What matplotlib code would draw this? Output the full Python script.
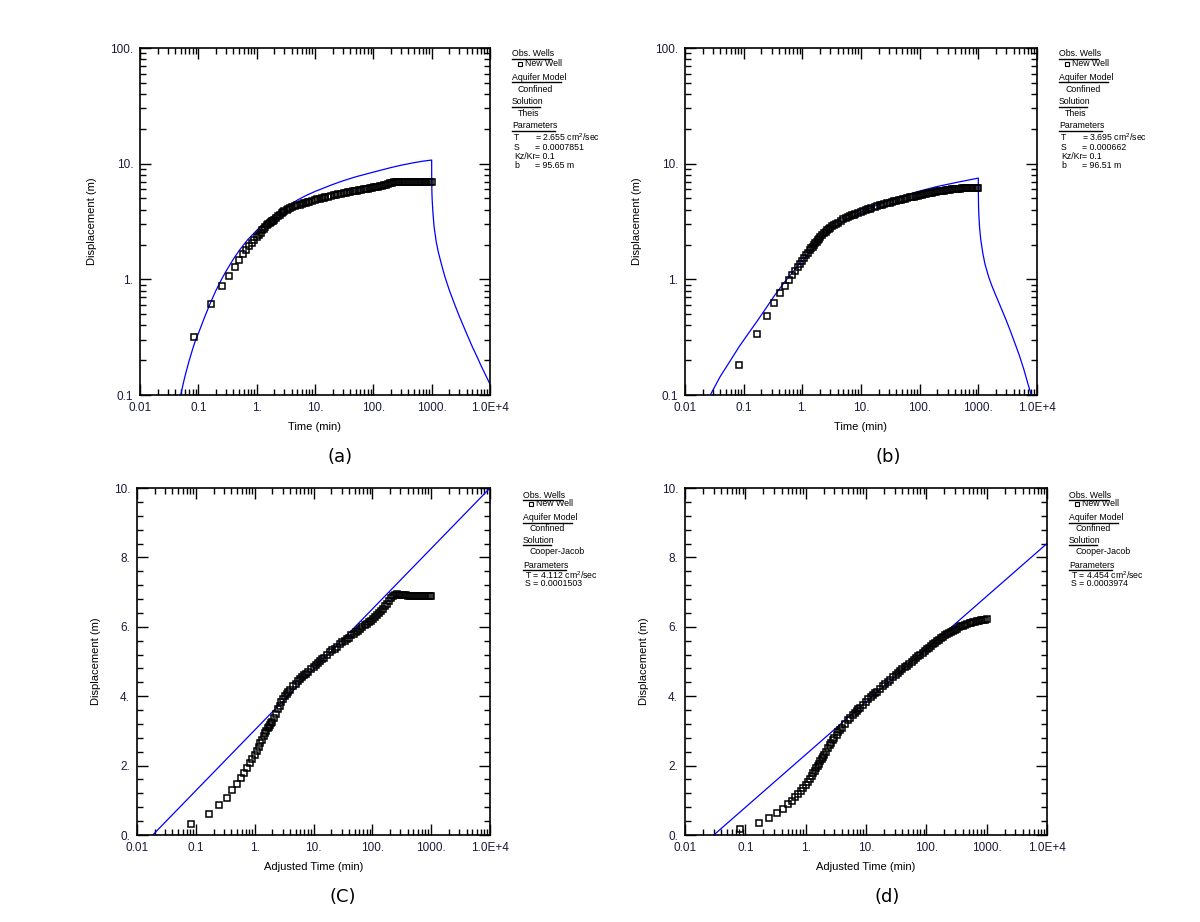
import matplotlib
matplotlib.use('Agg')
import matplotlib.pyplot as plt
from matplotlib.ticker import LogLocator, NullFormatter, MultipleLocator
from matplotlib.lines import Line2D

plt.rcParams['font.family'] = ['Liberation Sans', 'DejaVu Sans']
plt.rcParams['mathtext.default'] = 'regular'

# observed drawdown, test A (panels a, c)
tA = [0.083, 0.167, 0.25, 0.333, 0.417, 0.5, 0.583, 0.667, 0.75, 0.833, 0.917,
      1.0, 1.083, 1.167, 1.25, 1.333, 1.417, 1.5, 1.583, 1.667, 1.75, 1.833, 1.917,
      2.0, 2.17, 2.33, 2.5, 2.67, 2.83, 3.0, 3.25, 3.5, 3.75, 4.0, 4.5, 5.0, 5.5,
      6.0, 6.5, 7.0, 7.5, 8.0, 9.0, 10, 11, 12, 13, 14, 15, 17, 19, 21, 23, 25,
      28, 31, 34, 37, 40, 44, 48, 52, 57, 62, 68, 74, 80, 87, 94, 102, 110, 120,
      130, 140, 152, 165, 178, 192, 207, 223, 240, 260, 280, 300, 325, 350, 380,
      410, 445, 480, 520, 560, 605, 650, 700, 755, 815, 880, 940, 1000]
sA = [0.32, 0.61, 0.87, 1.07, 1.29, 1.48, 1.64, 1.79, 1.94, 2.07, 2.19,
      2.31, 2.42, 2.54, 2.65, 2.74, 2.86, 2.93, 3.00, 3.07, 3.12, 3.17, 3.22,
      3.26, 3.38, 3.50, 3.63, 3.73, 3.83, 3.91, 4.00, 4.07, 4.13, 4.19, 4.28, 4.36, 4.43,
      4.49, 4.55, 4.60, 4.65, 4.69, 4.77, 4.85, 4.91, 4.97, 5.02, 5.07, 5.11, 5.19, 5.26, 5.32, 5.37, 5.42,
      5.49, 5.55, 5.60, 5.65, 5.69, 5.75, 5.80, 5.84, 5.89, 5.94, 5.99, 6.04, 6.08, 6.13, 6.18, 6.23, 6.28, 6.34,
      6.40, 6.46, 6.52, 6.59, 6.67, 6.75, 6.83, 6.89, 6.93, 6.94, 6.93, 6.92, 6.92, 6.91, 6.91,
      6.90, 6.90, 6.90, 6.89, 6.89, 6.89, 6.89, 6.88, 6.88, 6.88, 6.88, 6.88, 6.88]

# observed drawdown, test B (panels b, d)
tB = tA
sB = [0.18, 0.34, 0.48, 0.62, 0.76, 0.88, 0.99, 1.09, 1.18, 1.27, 1.36,
      1.45, 1.54, 1.62, 1.70, 1.78, 1.85, 1.92, 1.99, 2.06, 2.12, 2.18, 2.24,
      2.30, 2.40, 2.50, 2.58, 2.66, 2.73, 2.80, 2.88, 2.96, 3.03, 3.09, 3.20, 3.30, 3.38,
      3.45, 3.51, 3.57, 3.62, 3.67, 3.76, 3.84, 3.91, 3.97, 4.03, 4.08, 4.13, 4.22, 4.30, 4.36, 4.42, 4.47,
      4.54, 4.61, 4.67, 4.72, 4.77, 4.83, 4.88, 4.93, 4.99, 5.04, 5.10, 5.15, 5.20, 5.25, 5.30, 5.35, 5.40, 5.45,
      5.50, 5.54, 5.58, 5.63, 5.67, 5.71, 5.75, 5.79, 5.82, 5.86, 5.89, 5.92, 5.95, 5.98, 6.01,
      6.03, 6.06, 6.08, 6.10, 6.12, 6.14, 6.15, 6.17, 6.18, 6.19, 6.20, 6.21, 6.22]

# Theis fit (a): pumping then recovery
tTa = [0.05, 0.055, 0.06, 0.07, 0.08, 0.09, 0.1, 0.13, 0.16, 0.2, 0.25, 0.3, 0.4, 0.5, 0.7, 1, 1.5,
       2, 3, 5, 7, 10, 20, 30, 50, 100, 200, 300, 500, 700, 1000,
       1000.3, 1001, 1002, 1005, 1010, 1020, 1050, 1100, 1200, 1300, 1500, 1700, 2000, 2500,
       3000, 4000, 5000, 6000, 7000, 8500, 10000]
sTa = [0.1, 0.125, 0.15, 0.2, 0.25, 0.3, 0.34, 0.48, 0.62, 0.8, 1.0, 1.18, 1.5, 1.77, 2.2, 2.65, 3.2,
       3.6, 4.1, 4.85, 5.3, 5.75, 6.6, 7.1, 7.7, 8.45, 9.25, 9.7, 10.2, 10.5, 10.75,
       9.3, 8.3, 7.6, 6.5, 5.6, 4.9, 3.8, 2.85, 2.1, 1.72, 1.3, 1.04, 0.81, 0.6,
       0.475, 0.337, 0.26, 0.214, 0.18, 0.147, 0.124]

# Theis fit (b)
tTb = [0.027, 0.04, 0.06, 0.083, 0.12, 0.167, 0.25, 0.333, 0.5, 0.75, 1, 1.5, 2, 3, 5, 7,
       10, 20, 50, 100, 200, 500, 1000,
       1000.3, 1001, 1002, 1005, 1010, 1020, 1050, 1100, 1200, 1300, 1500, 1700, 2000, 2500,
       3000, 3500, 4000, 5000, 6000, 7000, 8000]
sTb = [0.1, 0.145, 0.2, 0.26, 0.34, 0.43, 0.58, 0.72, 0.95, 1.22, 1.45, 1.85, 2.15, 2.6, 3.15, 3.45,
       3.8, 4.45, 5.25, 5.8, 6.35, 7.0, 7.5,
       6.8, 6.0, 5.5, 4.8, 4.2, 3.6, 2.8, 2.2, 1.65, 1.35, 1.05, 0.88, 0.72, 0.55,
       0.44, 0.36, 0.3, 0.22, 0.165, 0.125, 0.1]

# Cooper-Jacob straight lines (c, d)
tCc = [0.0185, 10000]
sCc = [0.0, 10.0]
tCd = [0.030, 10000]
sCd = [0.0, 8.4]

xticks = [0.01, 0.1, 1, 10, 100, 1000, 10000]
xticklabels = ['0.01', '0.1', '1.', '10.', '100.', '1000.', '1.0E+4']
ylogticks = [0.1, 1, 10, 100]
ylogticklabels = ['0.1', '1.', '10.', '100.']
ylinticks = [0, 2, 4, 6, 8, 10]
ylinticklabels = ['0.', '2.', '4.', '6.', '8.', '10.']

W, H = 1200, 922
fig = plt.figure(figsize=(W / 100, H / 100), dpi=100)


def frac(x, y):
    return x / W, 1 - y / H


def make_axes(left, top, right, bottom):
    return fig.add_axes([left / W, 1 - bottom / H, (right - left) / W, (bottom - top) / H])


def style(ax, logy, xlabel):
    ax.set_xscale('log')
    ax.set_xlim(0.01, 10000)
    ax.set_xticks(xticks)
    ax.set_xticklabels(xticklabels)
    ax.xaxis.set_minor_locator(LogLocator(base=10, subs=range(2, 10), numticks=20))
    ax.xaxis.set_minor_formatter(NullFormatter())
    if logy:
        ax.set_yscale('log')
        ax.set_ylim(0.1, 100)
        ax.set_yticks(ylogticks)
        ax.set_yticklabels(ylogticklabels)
        ax.yaxis.set_minor_locator(LogLocator(base=10, subs=range(2, 10), numticks=20))
        ax.yaxis.set_minor_formatter(NullFormatter())
    else:
        ax.set_ylim(0, 10)
        ax.set_yticks(ylinticks)
        ax.set_yticklabels(ylinticklabels)
        ax.yaxis.set_minor_locator(MultipleLocator(0.4))
    ax.tick_params(which='both', direction='in', top=True, right=True,
                   labelsize=8.5, width=1, pad=5, labelcolor='#1a1a3a')
    ax.tick_params(which='major', length=8)
    ax.tick_params(which='minor', length=4.5)
    for sp in ax.spines.values():
        sp.set_linewidth(1.2)
    ax.set_xlabel(xlabel, fontsize=8, labelpad=6)
    ax.set_ylabel('Displacement (m)', fontsize=8, labelpad=9)


def underline(x, y, w):
    x0, y0 = frac(x, y)
    x1, _ = frac(x + w, y)
    fig.add_artist(Line2D([x0, x1], [y0, y0], color='k', lw=1.0, transform=fig.transFigure))


def legend(x0, rows, solution, params, param_eq_x=None):
    fs = 6.3
    heads = ['Obs. Wells', 'Aquifer Model', 'Solution', 'Parameters']
    widths = [39, 49, 28, 43]
    for i, h in enumerate(heads):
        fig.text(*frac(x0, rows[2 * i]), h, fontsize=fs, va='center')
        underline(x0, rows[2 * i] + 5, widths[i])
    # obs well marker + name
    mx, my = frac(x0 + 8, rows[1])
    fig.add_artist(Line2D([mx], [my], marker='s', ms=3, mfc='none', mec='k', mew=0.8,
                          transform=fig.transFigure))
    fig.text(*frac(x0 + 13, rows[1]), 'New Well', fontsize=fs, va='center')
    fig.text(*frac(x0 + 6, rows[3]), 'Confined', fontsize=fs, va='center')
    fig.text(*frac(x0 + 6, rows[5]), solution, fontsize=fs, va='center')
    for j, (name, val) in enumerate(params):
        y = rows[7 + j]
        if param_eq_x is None:
            fig.text(*frac(x0 + 2, y), name + ' = ' + val, fontsize=fs, va='center')
        else:
            fig.text(*frac(x0 + 2, y), name, fontsize=fs, va='center')
            fig.text(*frac(x0 + param_eq_x, y), '= ' + val, fontsize=fs, va='center')


obs_kw = dict(ls='none', marker='s', ms=4.2, mfc='none', mec='k', mew=1.1, zorder=3)
fit_kw = dict(color='#0000ff', lw=0.9, zorder=2)

# (a)
ax1 = make_axes(140, 48, 490, 395)
ax1.plot(tTa, sTa, **fit_kw)
ax1.plot(tA, sA, **obs_kw)
style(ax1, True, 'Time (min)')

# (b)
ax2 = make_axes(685, 48, 1037, 395)
ax2.plot(tTb, sTb, **fit_kw)
ax2.plot(tB, sB, **obs_kw)
style(ax2, True, 'Time (min)')

# (c)
ax3 = make_axes(137, 488, 490, 835)
ax3.plot(tCc, sCc, **fit_kw)
ax3.plot(tA, sA, **obs_kw)
style(ax3, False, 'Adjusted Time (min)')

# (d)
ax4 = make_axes(685, 488, 1047, 835)
ax4.plot(tCd, sCd, **fit_kw)
ax4.plot(tB, sB, **obs_kw)
style(ax4, False, 'Adjusted Time (min)')

rows_ab = [54, 64, 77, 89, 102, 113, 126, 137, 147, 156.5, 165.5]
rows_cd = [495, 504, 518, 528, 540, 551, 565, 575, 584]

legend(512, rows_ab, 'Theis',
       [('T', '2.655 cm$^2$/sec'), ('S', '0.0007851'), ('Kz/Kr', '0.1'), ('b', '95.65 m')],
       param_eq_x=23)
legend(1059, rows_ab, 'Theis',
       [('T', '3.695 cm$^2$/sec'), ('S', '0.000662'), ('Kz/Kr', '0.1'), ('b', '96.51 m')],
       param_eq_x=23)
legend(523, rows_cd, 'Cooper-Jacob',
       [('T', '4.112 cm$^2$/sec'), ('S', '0.0001503')])
legend(1069, rows_cd, 'Cooper-Jacob',
       [('T', '4.454 cm$^2$/sec'), ('S', '0.0003974')])

for lab, x, y in [('(a)', 340, 457), ('(b)', 888, 457), ('(C)', 343, 897), ('(d)', 887, 897)]:
    fig.text(*frac(x, y), lab, fontsize=13, ha='center', va='center', family='DejaVu Sans')

fig.savefig('out.png', dpi=100)
